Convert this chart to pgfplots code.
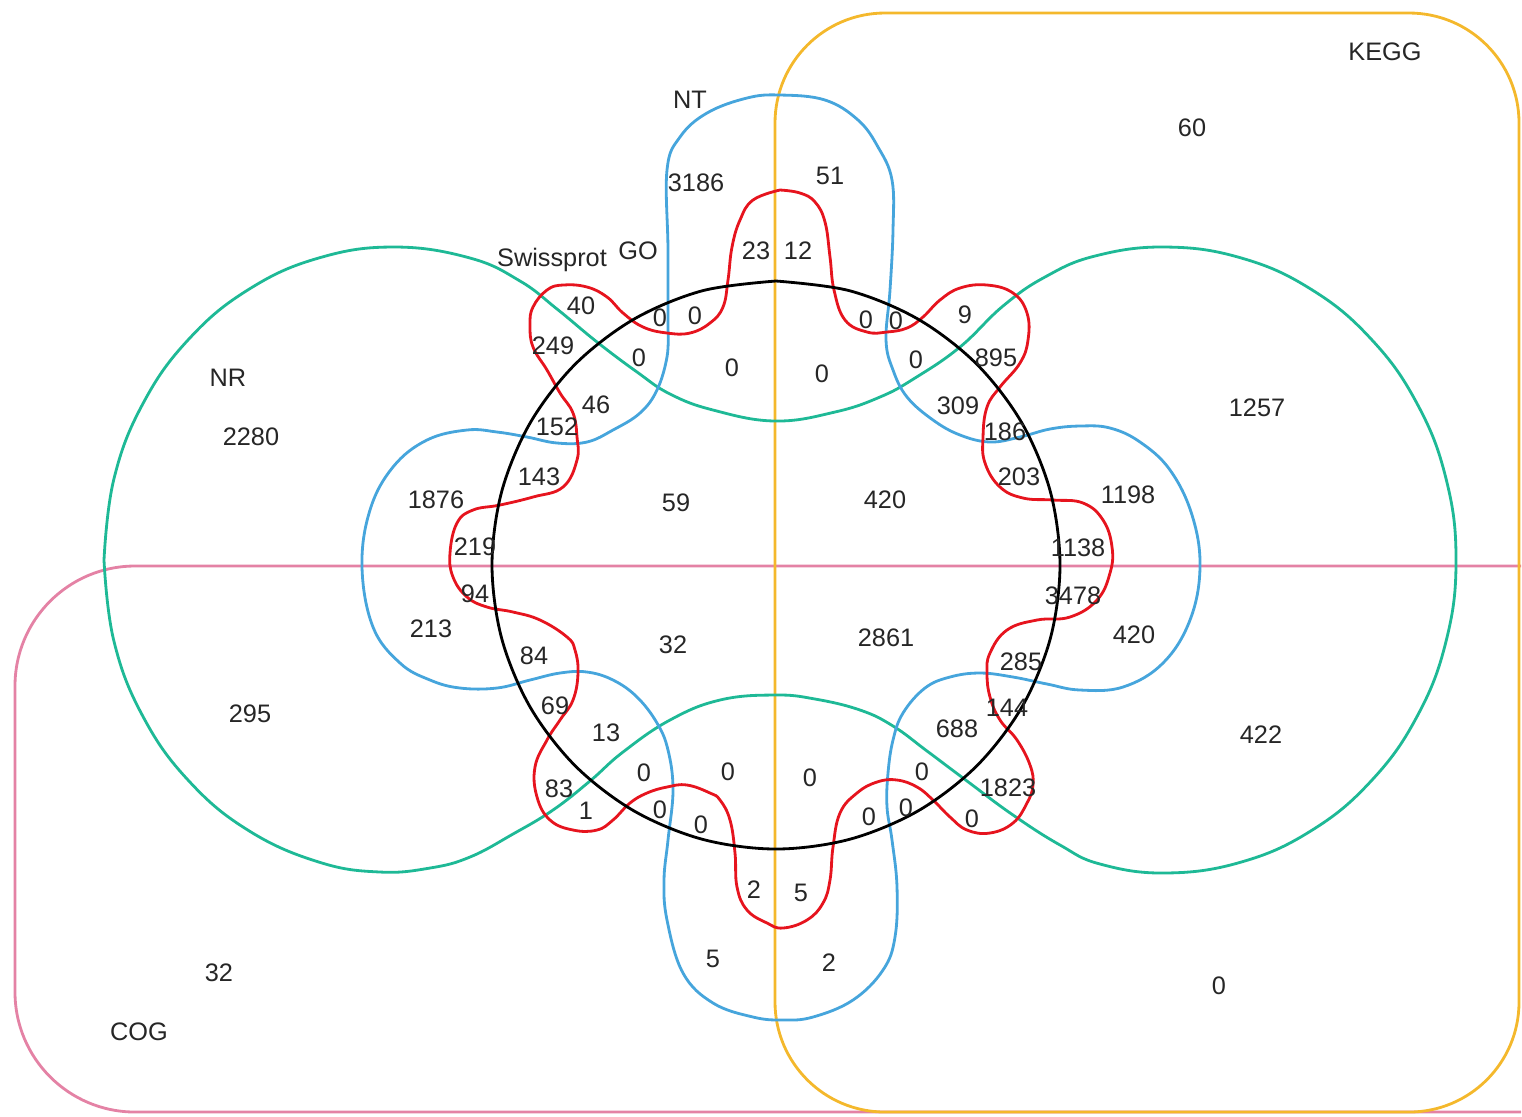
\documentclass[border=0pt]{standalone}
\usepackage{pgfplots}
\pgfplotsset{compat=1.18}
\usepackage{fontspec}
\setmainfont{Liberation Sans}

\definecolor{keggc}{RGB}{244,184,44}
\definecolor{cogc}{RGB}{228,130,165}
\definecolor{nrc}{RGB}{30,185,150}
\definecolor{ntc}{RGB}{70,165,220}
\definecolor{swc}{RGB}{230,20,30}

\begin{document}
\begin{tikzpicture}
\begin{axis}[
  scale only axis,
  width=15.22cm, height=11.16cm,
  xmin=0, xmax=1522, ymin=0, ymax=1116,
  y dir=reverse,
  hide axis,
  line width=0.8pt,
]
% keeps the page the size of the picture
\addplot[draw=none] coordinates {(0,0) (1522,1116)};

% COG
\addplot[cogc, rounded corners=12mm] coordinates {
  (1521,566) (15,566) (15,1112) (1521,1112)
};
% KEGG
\addplot[keggc, rounded corners=11mm] coordinates {
  (1150,13) (1519,13) (1519,1112) (775,1112) (775,13) (1150,13)
};
% NR
\addplot[nrc, smooth, tension=0.7] coordinates {
  (104,560) (113.9,479) (143,403.5) (189.2,338.7) (249.5,288.9)
  (319.7,257.7) (395,247) (470,258) (520,281) (557,309) (597,342)
  (637,372) (670,394) (713,410) (775,421) (835,412) (880,397) (915,378)
  (960,347) (1003,306) (1045,277) (1095,256) (1165,247)
  (1240.3,257.7) (1310.5,288.9) (1370.8,338.7) (1417,403.5)
  (1446.1,479) (1456,560) (1446.1,641) (1417,716.5) (1370.8,781.3)
  (1310.5,831.1) (1240.3,862.3) (1165,873) (1100,864) (1060,845)
  (1013,815) (967,781) (927,751) (893,726) (860,710) (815,699) (775,695)
  (720,700) (670,720) (623,752) (590,781) (553,810) (513,834) (470,857)
  (430,868) (380,872) (319.7,862.3) (249.5,831.1) (189.2,781.3)
  (143,716.5) (113.9,641) (104,560)
};
% NT
\addplot[ntc, smooth, tension=0.65] coordinates {
  (668,330) (668,250) (667,170) (680,137) (707,113) (747,98) (780,95)
  (825,100) (858,120) (878,147) (892,180) (893,230) (890,290) (886,340)
  (893,370) (907,397) (933,420) (960,435) (990,442) (1020,437) (1050,429)
  (1080,426) (1110,428) (1140,442) (1170,470) (1192,515) (1200,567)
  (1190,620) (1163,663) (1123,687) (1080,690) (1047,684) (1013,677)
  (980,673) (950,677) (925,688) (903,713) (893,740) (888,773) (887,807)
  (892,840) (897,887) (895,937) (883,970) (853,1000) (813,1017) (783,1020)
  (753,1017) (713,1003) (683,973) (667,920) (664,880) (668,840) (673,790)
  (668,750) (657,723) (637,697) (613,680) (587,672) (560,673) (530,680)
  (497,688) (460,688) (430,680) (400,663) (373,627) (362,567) (370,510)
  (393,467) (427,440) (467,430) (497,432) (527,437) (557,443) (587,442)
  (613,430) (640,413) (657,390) (667,357) (668,330)
};
% Swissprot
\addplot[swc, smooth, tension=0.7] coordinates {
  (780,190) (800,193) (815,202) (825,222) (830,257) (834,290) (845,320)
  (867,332) (887,332) (907,328) (923,317) (940,300) (960,288) (987,285)
  (1013,293) (1027,313) (1028,340) (1020,363) (1000,387) (987,407)
  (983,437) (985,463) (1000,487) (1023,498) (1053,500) (1083,503)
  (1103,520) (1112,547) (1110,573) (1097,600) (1070,617) (1037,620)
  (1007,630) (990,653) (987,673) (990,697) (1000,720) (1017,740)
  (1030,765) (1033,785) (1027,803) (1013,823) (990,833) (967,830)
  (950,817) (933,800) (917,787) (897,780) (877,782) (857,793) (840,813)
  (833,847) (830,880) (823,903) (807,920) (783,928) (767,923) (747,910)
  (737,887) (735,853) (730,820) (720,800) (710,793) (687,785) (667,787)
  (647,793) (630,803) (613,820) (597,830) (573,830) (550,820) (537,797)
  (535,767) (547,740) (560,720) (573,700) (578,673) (575,650) (567,637)
  (540,620) (513,612) (487,607) (467,597) (453,577) (450,553) (457,523)
  (473,510) (500,505) (533,497) (563,487) (577,460) (577,437) (573,413)
  (560,393) (547,370) (533,347) (530,325) (533,307) (547,290) (563,285)
  (587,287) (607,297) (623,313) (643,327) (667,333) (690,333) (710,323)
  (723,307) (728,280) (732,247) (740,220) (753,200) (780,190)
};
% GO
\addplot[black, smooth, tension=0.55] coordinates {
  (776,281) (849.5,290.7) (918,319.1) (976.8,364.2) (1021.9,423)
  (1050.3,491.5) (1060,565) (1050.3,638.5) (1021.9,707) (976.8,765.8)
  (918,810.9) (849.5,839.3) (776,849) (702.5,839.3) (634,810.9)
  (575.2,765.8) (530.1,707) (501.7,638.5) (492,565) (501.7,491.5)
  (530.1,423) (575.2,364.2) (634,319.1) (702.5,290.7) (776,281)
};

% labels and counts
\addplot[only marks, mark=none, point meta=explicit symbolic,
  nodes near coords, nodes near coords align={center},
  every node near coord/.append style={font=\fontsize{7.2}{8}\selectfont,
    text=black!85, inner sep=0pt}]
  table[meta=l] {
x y l
690 100 NT
1385 52 KEGG
552 260 Swissprot
638 251 GO
228 378 NR
139 1032 COG
1192 128 60
696 183 3186
830 176 51
756 251 23
798 251 12
581 306 40
660 318 0
695 316 0
866 320 0
896 321 0
965 315 9
553 346 249
639 358 0
732 368 0
822 374 0
916 360 0
996 358 895
1257 408 1257
251 437 2280
596 405 46
557 427 152
958 406 309
1005 432 186
539 477 143
1019 477 203
436 500 1876
676 503 59
885 500 420
1128 495 1198
475 547 219
1078 548 1138
475 594 94
1073 596 3478
431 629 213
673 645 32
886 638 2861
1134 635 420
1021 662 285
534 656 84
250 714 295
555 706 69
1007 708 144
606 733 13
957 729 688
1261 735 422
644 773 0
728 772 0
810 778 0
922 772 0
559 789 83
1008 788 1823
586 811 1
660 810 0
701 825 0
869 817 0
906 808 0
972 819 0
754 890 2
801 893 5
713 959 5
829 963 2
219 973 32
1219 986 0
};
\end{axis}
\end{tikzpicture}
\end{document}
